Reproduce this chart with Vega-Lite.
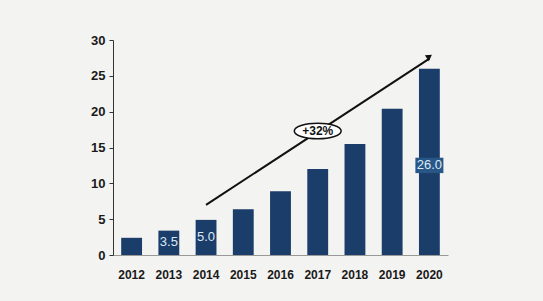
{
  "$schema": "https://vega.github.io/schema/vega-lite/v6.json",
  "autosize": "none",
  "width": 335,
  "height": 215,
  "padding": {"left": 113, "top": 40, "right": 95, "bottom": 46},
  "background": "#f3f3f1",
  "config": {"view": {"stroke": null}, "font": "Liberation Sans"},
  "datasets": {
    "bars": [
      {"year": "2012", "value": 2.4},
      {"year": "2013", "value": 3.4},
      {"year": "2014", "value": 4.9},
      {"year": "2015", "value": 6.4},
      {"year": "2016", "value": 8.9},
      {"year": "2017", "value": 12.0},
      {"year": "2018", "value": 15.5},
      {"year": "2019", "value": 20.4},
      {"year": "2020", "value": 26.0}
    ],
    "labels": [
      {"year": "2013", "value": 1.8, "label": "3.5"},
      {"year": "2014", "value": 2.5, "label": "5.0"},
      {"year": "2020", "value": 12.5, "label": "26.0"}
    ],
    "box": [{"year": "2020", "value": 12.5}],
    "arrow": [
      {"year": "2014", "value": 7.0, "year2": "2020", "value2": 27.4}
    ],
    "head": [{"year": "2020", "value": 27.7}],
    "growth": [{"year": "2017", "value": 17.3, "label": "+32%"}]
  },
  "encoding": {
    "x": {
      "field": "year", "type": "ordinal",
      "scale": {"paddingInner": 0.44, "paddingOuter": 0.22},
      "axis": {
        "title": null, "labelAngle": 0, "ticks": false,
        "domainColor": "#999999", "domainWidth": 1,
        "labelFont": "Liberation Sans", "labelFontWeight": "bold",
        "labelFontSize": 12, "labelColor": "#1a1a1a", "labelPadding": 14
      }
    },
    "y": {
      "field": "value", "type": "quantitative",
      "scale": {"domain": [0, 30], "nice": false},
      "axis": {
        "title": null, "values": [0, 5, 10, 15, 20, 25, 30], "grid": false,
        "labelOverlap": false,
        "domainColor": "#333333", "tickColor": "#333333", "tickSize": 4,
        "labelFont": "Liberation Sans", "labelFontWeight": "bold",
        "labelFontSize": 13, "labelColor": "#1a1a1a", "labelPadding": 4
      }
    }
  },
  "layer": [
    {
      "data": {"name": "bars"},
      "mark": {"type": "bar", "color": "#1b3d6a"}
    },
    {
      "data": {"name": "box"},
      "mark": {"type": "point", "shape": "M-1,-0.55 L1,-0.55 L1,0.55 L-1,0.55 Z", "filled": true, "color": "#285787", "size": 784, "opacity": 1}
    },
    {
      "data": {"name": "labels"},
      "mark": {"type": "text", "color": "#dde8f5", "fontSize": 13, "font": "Liberation Sans", "baseline": "middle"},
      "encoding": {"text": {"field": "label"}}
    },
    {
      "data": {"name": "arrow"},
      "mark": {"type": "rule", "color": "#111111", "strokeWidth": 2},
      "encoding": {
        "x2": {"field": "year2"},
        "y2": {"field": "value2"}
      }
    },
    {
      "data": {"name": "head"},
      "mark": {"type": "point", "shape": "triangle-up", "filled": true, "color": "#111111", "size": 50, "angle": 56, "opacity": 1}
    },
    {
      "data": {"name": "growth"},
      "mark": {"type": "point", "shape": "M-1,0 A1,0.33 0 1,1 1,0 A1,0.33 0 1,1 -1,0 Z", "filled": false, "fill": "#ffffff", "fillOpacity": 1, "stroke": "#111111", "strokeWidth": 1.5, "size": 2200, "opacity": 1}
    },
    {
      "data": {"name": "growth"},
      "mark": {"type": "text", "color": "#111111", "fontSize": 12, "fontWeight": "bold", "font": "Liberation Sans", "baseline": "middle"},
      "encoding": {"text": {"field": "label"}}
    }
  ]
}
